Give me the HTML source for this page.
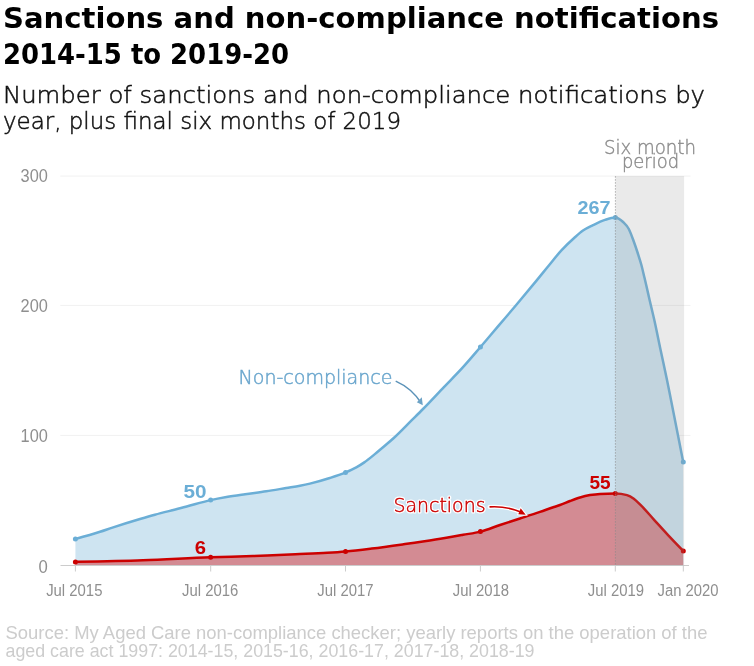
<!DOCTYPE html>
<html lang="en"><head><meta charset="utf-8"><title>Sanctions and non-compliance notifications 2014-15 to 2019-20</title>
<style>html,body{margin:0;padding:0;background:#fff}svg{display:block;will-change:transform}text.l{font-family:"Liberation Sans", sans-serif}text.d{font-family:"DejaVu Sans","Liberation Sans",sans-serif}</style></head><body>
<svg width="754" height="666" viewBox="0 0 754 666">
<rect width="754" height="666" fill="#fff"/>
<text class="d" x="3.0" y="27.6" font-size="29.0" fill="#000" text-anchor="start" font-weight="bold" textLength="716.0" lengthAdjust="spacingAndGlyphs">Sanctions and non-compliance notifications</text>
<text class="d" x="3.0" y="63.7" font-size="29.0" fill="#000" text-anchor="start" font-weight="bold" textLength="286.0" lengthAdjust="spacingAndGlyphs">2014-15 to 2019-20</text>
<text class="d" x="3.0" y="102.9" font-size="23.3" fill="#111" text-anchor="start" font-weight="200" textLength="702.0" lengthAdjust="spacingAndGlyphs" stroke="#111" stroke-width="0.5">Number of sanctions and non-compliance notifications by</text>
<text class="d" x="3.0" y="128.9" font-size="23.3" fill="#111" text-anchor="start" font-weight="200" textLength="398.0" lengthAdjust="spacingAndGlyphs" stroke="#111" stroke-width="0.5">year, plus final six months of 2019</text>
<line x1="60.3" x2="690.5" y1="435.4" y2="435.4" stroke="#f1f1f1" stroke-width="1"/>
<line x1="60.3" x2="690.5" y1="305.4" y2="305.4" stroke="#f1f1f1" stroke-width="1"/>
<line x1="60.3" x2="690.5" y1="176.1" y2="176.1" stroke="#f1f1f1" stroke-width="1"/>
<path d="M75.40,539.00C83.60,536.73,91.80,534.45,100.00,531.80C104.13,530.46,108.27,528.97,112.40,527.60C121.60,524.56,130.80,521.73,140.00,519.00C144.97,517.53,149.93,516.07,154.90,514.70C163.27,512.39,171.63,510.52,180.00,508.30C182.23,507.71,184.47,507.10,186.70,506.50C194.63,504.37,202.57,501.88,210.50,500.10C215.83,498.91,221.17,497.93,226.50,497.00C232.70,495.92,238.90,495.09,245.10,494.20C252.17,493.18,259.23,492.37,266.30,491.30C272.93,490.29,279.57,489.10,286.20,488.00C290.80,487.23,295.40,486.59,300.00,485.70C303.30,485.06,306.60,484.38,309.90,483.60C316.53,482.04,323.17,480.14,329.80,478.00C335.07,476.30,340.33,474.62,345.60,472.40C349.17,470.90,352.73,469.39,356.30,467.40C358.97,465.91,361.63,464.24,364.30,462.40C368.27,459.66,372.23,456.24,376.20,453.00C379.07,450.66,381.93,448.24,384.80,445.80C387.70,443.34,390.60,440.92,393.50,438.30C399.60,432.79,405.70,426.27,411.80,420.20C415.53,416.48,419.27,412.80,423.00,409.00C429.90,401.98,436.80,394.51,443.70,387.30C450.07,380.65,456.43,374.40,462.80,367.40C468.70,360.91,474.60,353.87,480.50,347.00C486.33,340.20,492.17,333.25,498.00,326.40C504.00,319.35,510.00,312.42,516.00,305.30C522.83,297.19,529.67,288.93,536.50,280.60C540.33,275.93,544.17,271.16,548.00,266.50C552.47,261.07,556.93,255.24,561.40,250.40C565.73,245.70,570.07,241.66,574.40,237.80C577.27,235.25,580.13,232.61,583.00,230.60C586.33,228.27,589.67,226.85,593.00,225.20C597.00,223.22,601.00,221.19,605.00,219.90C608.47,218.78,611.93,217.60,615.40,217.60C616.60,217.60,617.80,218.25,619.00,218.90C620.37,219.65,621.73,220.70,623.10,222.00C625.00,223.81,626.90,225.35,628.80,229.00C630.40,232.07,632.00,236.63,633.60,241.00C634.97,244.73,636.33,248.77,637.70,253.00C638.93,256.81,640.17,260.38,641.40,265.00C642.37,268.62,643.33,272.96,644.30,277.00C644.93,279.65,645.57,282.29,646.20,285.00C647.33,289.85,648.47,295.07,649.60,300.00C651.17,306.81,652.73,312.99,654.30,320.00C656.40,329.39,658.50,340.08,660.60,350.00C662.73,360.08,664.87,369.59,667.00,380.00C668.33,386.51,669.67,393.30,671.00,400.00C673.63,413.22,676.27,426.58,678.90,440.00C680.33,447.31,681.77,454.65,683.20,462.00L683.30,565.50 L75.40,565.50 Z" fill="#fff"/>
<text class="l" x="47.9" y="573.1" font-size="18.3" fill="#8f8f8f" text-anchor="end" font-weight="normal" textLength="9.3" lengthAdjust="spacingAndGlyphs">0</text>
<text class="l" x="47.9" y="441.8" font-size="18.3" fill="#8f8f8f" text-anchor="end" font-weight="normal" textLength="27.3" lengthAdjust="spacingAndGlyphs">100</text>
<text class="l" x="47.9" y="311.6" font-size="18.3" fill="#8f8f8f" text-anchor="end" font-weight="normal" textLength="27.3" lengthAdjust="spacingAndGlyphs">200</text>
<text class="l" x="47.9" y="181.6" font-size="18.3" fill="#8f8f8f" text-anchor="end" font-weight="normal" textLength="27.3" lengthAdjust="spacingAndGlyphs">300</text>
<path d="M75.40,539.00C83.60,536.73,91.80,534.45,100.00,531.80C104.13,530.46,108.27,528.97,112.40,527.60C121.60,524.56,130.80,521.73,140.00,519.00C144.97,517.53,149.93,516.07,154.90,514.70C163.27,512.39,171.63,510.52,180.00,508.30C182.23,507.71,184.47,507.10,186.70,506.50C194.63,504.37,202.57,501.88,210.50,500.10C215.83,498.91,221.17,497.93,226.50,497.00C232.70,495.92,238.90,495.09,245.10,494.20C252.17,493.18,259.23,492.37,266.30,491.30C272.93,490.29,279.57,489.10,286.20,488.00C290.80,487.23,295.40,486.59,300.00,485.70C303.30,485.06,306.60,484.38,309.90,483.60C316.53,482.04,323.17,480.14,329.80,478.00C335.07,476.30,340.33,474.62,345.60,472.40C349.17,470.90,352.73,469.39,356.30,467.40C358.97,465.91,361.63,464.24,364.30,462.40C368.27,459.66,372.23,456.24,376.20,453.00C379.07,450.66,381.93,448.24,384.80,445.80C387.70,443.34,390.60,440.92,393.50,438.30C399.60,432.79,405.70,426.27,411.80,420.20C415.53,416.48,419.27,412.80,423.00,409.00C429.90,401.98,436.80,394.51,443.70,387.30C450.07,380.65,456.43,374.40,462.80,367.40C468.70,360.91,474.60,353.87,480.50,347.00C486.33,340.20,492.17,333.25,498.00,326.40C504.00,319.35,510.00,312.42,516.00,305.30C522.83,297.19,529.67,288.93,536.50,280.60C540.33,275.93,544.17,271.16,548.00,266.50C552.47,261.07,556.93,255.24,561.40,250.40C565.73,245.70,570.07,241.66,574.40,237.80C577.27,235.25,580.13,232.61,583.00,230.60C586.33,228.27,589.67,226.85,593.00,225.20C597.00,223.22,601.00,221.19,605.00,219.90C608.47,218.78,611.93,217.60,615.40,217.60C616.60,217.60,617.80,218.25,619.00,218.90C620.37,219.65,621.73,220.70,623.10,222.00C625.00,223.81,626.90,225.35,628.80,229.00C630.40,232.07,632.00,236.63,633.60,241.00C634.97,244.73,636.33,248.77,637.70,253.00C638.93,256.81,640.17,260.38,641.40,265.00C642.37,268.62,643.33,272.96,644.30,277.00C644.93,279.65,645.57,282.29,646.20,285.00C647.33,289.85,648.47,295.07,649.60,300.00C651.17,306.81,652.73,312.99,654.30,320.00C656.40,329.39,658.50,340.08,660.60,350.00C662.73,360.08,664.87,369.59,667.00,380.00C668.33,386.51,669.67,393.30,671.00,400.00C673.63,413.22,676.27,426.58,678.90,440.00C680.33,447.31,681.77,454.65,683.20,462.00L683.30,565.50 L75.40,565.50 Z" fill="#6baed6" fill-opacity="0.33"/>
<path d="M75.40,561.90C97.93,561.48,120.47,561.07,143.00,560.30C165.47,559.53,187.93,558.11,210.40,557.30C224.60,556.79,238.80,556.52,253.00,556.00C267.17,555.48,281.33,554.81,295.50,554.20C306.10,553.74,316.70,553.45,327.30,552.80C333.40,552.43,339.50,552.03,345.60,551.50C354.33,550.74,363.07,549.66,371.80,548.60C382.43,547.31,393.07,545.80,403.70,544.30C414.30,542.80,424.90,541.31,435.50,539.60C444.70,538.11,453.90,536.45,463.10,534.80C468.93,533.75,474.77,533.10,480.60,531.60C487.07,529.93,493.53,527.15,500.00,525.00C506.67,522.78,513.33,520.68,520.00,518.50C526.67,516.32,533.33,514.18,540.00,511.90C544.67,510.31,549.33,508.58,554.00,507.00C556.00,506.32,558.00,505.72,560.00,505.00C563.33,503.81,566.67,502.25,570.00,501.00C573.33,499.75,576.67,498.48,580.00,497.50C583.33,496.52,586.67,495.70,590.00,495.10C593.33,494.50,596.67,494.03,600.00,493.90C605.10,493.70,610.20,493.60,615.30,493.60C619.20,493.60,623.10,494.10,627.00,495.10C629.27,495.68,631.53,497.05,633.80,498.70C636.03,500.33,638.27,502.71,640.50,504.90C645.03,509.35,649.57,514.83,654.10,519.80C658.60,524.73,663.10,529.77,667.60,534.60C672.80,540.18,678.00,545.54,683.20,550.90L683.30,565.50 L75.40,565.50 Z" fill="#dc0000" fill-opacity="0.39"/>
<line x1="60.5" x2="689" y1="565.5" y2="565.5" stroke="#ccc" stroke-width="1"/>
<line x1="75.4" x2="75.4" y1="565.5" y2="571.5" stroke="#ccc" stroke-width="1"/>
<line x1="210.7" x2="210.7" y1="565.5" y2="571.5" stroke="#ccc" stroke-width="1"/>
<line x1="345.5" x2="345.5" y1="565.5" y2="571.5" stroke="#ccc" stroke-width="1"/>
<line x1="480.4" x2="480.4" y1="565.5" y2="571.5" stroke="#ccc" stroke-width="1"/>
<line x1="615.3" x2="615.3" y1="565.5" y2="571.5" stroke="#ccc" stroke-width="1"/>
<line x1="683.3" x2="683.3" y1="565.5" y2="571.5" stroke="#ccc" stroke-width="1"/>
<path d="M75.40,539.00C83.60,536.73,91.80,534.45,100.00,531.80C104.13,530.46,108.27,528.97,112.40,527.60C121.60,524.56,130.80,521.73,140.00,519.00C144.97,517.53,149.93,516.07,154.90,514.70C163.27,512.39,171.63,510.52,180.00,508.30C182.23,507.71,184.47,507.10,186.70,506.50C194.63,504.37,202.57,501.88,210.50,500.10C215.83,498.91,221.17,497.93,226.50,497.00C232.70,495.92,238.90,495.09,245.10,494.20C252.17,493.18,259.23,492.37,266.30,491.30C272.93,490.29,279.57,489.10,286.20,488.00C290.80,487.23,295.40,486.59,300.00,485.70C303.30,485.06,306.60,484.38,309.90,483.60C316.53,482.04,323.17,480.14,329.80,478.00C335.07,476.30,340.33,474.62,345.60,472.40C349.17,470.90,352.73,469.39,356.30,467.40C358.97,465.91,361.63,464.24,364.30,462.40C368.27,459.66,372.23,456.24,376.20,453.00C379.07,450.66,381.93,448.24,384.80,445.80C387.70,443.34,390.60,440.92,393.50,438.30C399.60,432.79,405.70,426.27,411.80,420.20C415.53,416.48,419.27,412.80,423.00,409.00C429.90,401.98,436.80,394.51,443.70,387.30C450.07,380.65,456.43,374.40,462.80,367.40C468.70,360.91,474.60,353.87,480.50,347.00C486.33,340.20,492.17,333.25,498.00,326.40C504.00,319.35,510.00,312.42,516.00,305.30C522.83,297.19,529.67,288.93,536.50,280.60C540.33,275.93,544.17,271.16,548.00,266.50C552.47,261.07,556.93,255.24,561.40,250.40C565.73,245.70,570.07,241.66,574.40,237.80C577.27,235.25,580.13,232.61,583.00,230.60C586.33,228.27,589.67,226.85,593.00,225.20C597.00,223.22,601.00,221.19,605.00,219.90C608.47,218.78,611.93,217.60,615.40,217.60C616.60,217.60,617.80,218.25,619.00,218.90C620.37,219.65,621.73,220.70,623.10,222.00C625.00,223.81,626.90,225.35,628.80,229.00C630.40,232.07,632.00,236.63,633.60,241.00C634.97,244.73,636.33,248.77,637.70,253.00C638.93,256.81,640.17,260.38,641.40,265.00C642.37,268.62,643.33,272.96,644.30,277.00C644.93,279.65,645.57,282.29,646.20,285.00C647.33,289.85,648.47,295.07,649.60,300.00C651.17,306.81,652.73,312.99,654.30,320.00C656.40,329.39,658.50,340.08,660.60,350.00C662.73,360.08,664.87,369.59,667.00,380.00C668.33,386.51,669.67,393.30,671.00,400.00C673.63,413.22,676.27,426.58,678.90,440.00C680.33,447.31,681.77,454.65,683.20,462.00" fill="none" stroke="#6baed6" stroke-width="2.5" stroke-linejoin="round" stroke-linecap="round"/>
<path d="M75.40,561.90C97.93,561.48,120.47,561.07,143.00,560.30C165.47,559.53,187.93,558.11,210.40,557.30C224.60,556.79,238.80,556.52,253.00,556.00C267.17,555.48,281.33,554.81,295.50,554.20C306.10,553.74,316.70,553.45,327.30,552.80C333.40,552.43,339.50,552.03,345.60,551.50C354.33,550.74,363.07,549.66,371.80,548.60C382.43,547.31,393.07,545.80,403.70,544.30C414.30,542.80,424.90,541.31,435.50,539.60C444.70,538.11,453.90,536.45,463.10,534.80C468.93,533.75,474.77,533.10,480.60,531.60C487.07,529.93,493.53,527.15,500.00,525.00C506.67,522.78,513.33,520.68,520.00,518.50C526.67,516.32,533.33,514.18,540.00,511.90C544.67,510.31,549.33,508.58,554.00,507.00C556.00,506.32,558.00,505.72,560.00,505.00C563.33,503.81,566.67,502.25,570.00,501.00C573.33,499.75,576.67,498.48,580.00,497.50C583.33,496.52,586.67,495.70,590.00,495.10C593.33,494.50,596.67,494.03,600.00,493.90C605.10,493.70,610.20,493.60,615.30,493.60C619.20,493.60,623.10,494.10,627.00,495.10C629.27,495.68,631.53,497.05,633.80,498.70C636.03,500.33,638.27,502.71,640.50,504.90C645.03,509.35,649.57,514.83,654.10,519.80C658.60,524.73,663.10,529.77,667.60,534.60C672.80,540.18,678.00,545.54,683.20,550.90" fill="none" stroke="#cc0000" stroke-width="2.5" stroke-linejoin="round" stroke-linecap="round"/>
<circle cx="75.40" cy="539.00" r="2.5" fill="#6baed6"/>
<circle cx="210.65" cy="500.10" r="2.5" fill="#6baed6"/>
<circle cx="345.54" cy="472.40" r="2.5" fill="#6baed6"/>
<circle cx="480.42" cy="347.00" r="2.5" fill="#6baed6"/>
<circle cx="615.30" cy="217.60" r="2.5" fill="#6baed6"/>
<circle cx="683.30" cy="462.00" r="2.5" fill="#6baed6"/>
<circle cx="75.40" cy="561.90" r="2.5" fill="#cc0000"/>
<circle cx="210.65" cy="557.30" r="2.5" fill="#cc0000"/>
<circle cx="345.54" cy="551.50" r="2.5" fill="#cc0000"/>
<circle cx="480.42" cy="531.60" r="2.5" fill="#cc0000"/>
<circle cx="615.30" cy="493.60" r="2.5" fill="#cc0000"/>
<circle cx="683.30" cy="550.90" r="2.5" fill="#cc0000"/>
<rect x="615.5" y="176.0" width="68.6" height="389.5" fill="#969696" fill-opacity="0.2"/>
<line x1="615.4" x2="615.4" y1="176.0" y2="565.5" stroke="#888" stroke-opacity="0.8" stroke-width="0.7" stroke-dasharray="1.8,1.2"/>
<text class="l" x="74.3" y="596.2" font-size="17.3" fill="#8f8f8f" text-anchor="middle" font-weight="normal" textLength="56.3" lengthAdjust="spacingAndGlyphs">Jul 2015</text>
<text class="l" x="210.2" y="596.2" font-size="17.3" fill="#8f8f8f" text-anchor="middle" font-weight="normal" textLength="56.3" lengthAdjust="spacingAndGlyphs">Jul 2016</text>
<text class="l" x="345.4" y="596.2" font-size="17.3" fill="#8f8f8f" text-anchor="middle" font-weight="normal" textLength="56.3" lengthAdjust="spacingAndGlyphs">Jul 2017</text>
<text class="l" x="481.0" y="596.2" font-size="17.3" fill="#8f8f8f" text-anchor="middle" font-weight="normal" textLength="56.3" lengthAdjust="spacingAndGlyphs">Jul 2018</text>
<text class="l" x="616.0" y="596.2" font-size="17.3" fill="#8f8f8f" text-anchor="middle" font-weight="normal" textLength="56.3" lengthAdjust="spacingAndGlyphs">Jul 2019</text>
<text class="l" x="657.6" y="596.2" font-size="17.3" fill="#8f8f8f" text-anchor="start" font-weight="normal" textLength="61.0" lengthAdjust="spacingAndGlyphs">Jan 2020</text>
<text class="l" x="206.5" y="497.9" font-size="18.9" fill="#6baed6" text-anchor="end" font-weight="bold" textLength="23.0" lengthAdjust="spacingAndGlyphs">50</text>
<text class="l" x="610.5" y="213.6" font-size="18.9" fill="#6baed6" text-anchor="end" font-weight="bold" textLength="33.0" lengthAdjust="spacingAndGlyphs">267</text>
<text class="l" x="206.0" y="553.6" font-size="18.9" fill="#cc0000" text-anchor="end" font-weight="bold" textLength="11.3" lengthAdjust="spacingAndGlyphs">6</text>
<text class="l" x="610.6" y="488.8" font-size="19.1" fill="#cc0000" text-anchor="end" font-weight="bold" textLength="21.2" lengthAdjust="spacingAndGlyphs">55</text>
<text class="d" x="650.0" y="153.9" font-size="18.8" fill="#8c8c8c" text-anchor="middle" font-weight="200" textLength="92.0" lengthAdjust="spacingAndGlyphs" stroke="#8c8c8c" stroke-width="0.4">Six month</text>
<text class="d" x="650.5" y="168.2" font-size="18.8" fill="#8c8c8c" text-anchor="middle" font-weight="200" textLength="57.0" lengthAdjust="spacingAndGlyphs" stroke="#8c8c8c" stroke-width="0.4">period</text>
<text class="d" x="238.5" y="383.8" font-size="18.6" fill="#fff" text-anchor="start" font-weight="200" textLength="154.0" lengthAdjust="spacingAndGlyphs" stroke="#fff" stroke-width="3" paint-order="stroke" stroke-linejoin="round">Non-compliance</text>
<text class="d" x="238.5" y="383.8" font-size="18.6" fill="#6aa6cd" text-anchor="start" font-weight="200" textLength="154.0" lengthAdjust="spacingAndGlyphs" stroke="#6aa6cd" stroke-width="0.45">Non-compliance</text>
<text class="d" x="393.5" y="511.8" font-size="18.6" fill="#fff" text-anchor="start" font-weight="200" textLength="92.0" lengthAdjust="spacingAndGlyphs" stroke="#fff" stroke-width="3" paint-order="stroke" stroke-linejoin="round">Sanctions</text>
<text class="d" x="393.5" y="511.8" font-size="18.6" fill="#cc0000" text-anchor="start" font-weight="200" textLength="92.0" lengthAdjust="spacingAndGlyphs" stroke="#cc0000" stroke-width="0.45">Sanctions</text>
<path d="M395.7,381.1A58,58,0,0,1,421.5,403.5" fill="none" stroke="#5b92b8" stroke-width="1.5"/>
<path d="M422.8,405.2L421.8,397.3L416.8,402.2Z" fill="#6da3c6"/>
<path d="M489.5,506.9A70,70,0,0,1,522,512.5" fill="none" stroke="#fff" stroke-width="4" stroke-linecap="round"/>
<path d="M525.7,514.7L520.7,508.3L518.3,514.3Z" fill="#cc0000" stroke="#fff" stroke-width="2" paint-order="stroke"/>
<path d="M489.5,506.9A70,70,0,0,1,522,512.5" fill="none" stroke="#cc0000" stroke-width="1.6"/>
<text class="l" x="5.5" y="638.7" font-size="18.4" fill="#ccc" text-anchor="start" font-weight="normal" textLength="702.0" lengthAdjust="spacingAndGlyphs">Source: My Aged Care non-compliance checker; yearly reports on the operation of the</text>
<text class="l" x="5.5" y="656.5" font-size="18.4" fill="#ccc" text-anchor="start" font-weight="normal" textLength="529.0" lengthAdjust="spacingAndGlyphs">aged care act 1997: 2014-15, 2015-16, 2016-17, 2017-18, 2018-19</text>
</svg></body></html>
